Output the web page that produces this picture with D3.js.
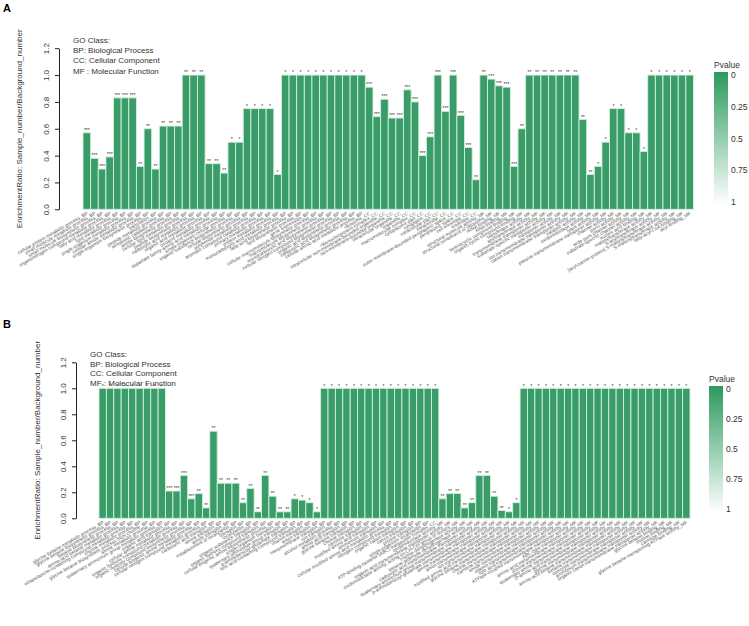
<!DOCTYPE html>
<html><head><meta charset="utf-8">
<script src="https://cdn.jsdelivr.net/npm/d3@7"></script>
<style>body{margin:0;background:#fff}svg{display:block;font-family:"Liberation Sans",Arial,sans-serif}</style>
</head><body><svg id="c" width="749" height="626"></svg>
<script>
// ---------- DATA ----------
const yTicks = [0, 0.2, 0.4, 0.6, 0.8, 1.0, 1.2];
const legendLines = ["GO Class:", "BP: Biological Process", "CC: Cellular Component", "MF : Molecular Function"];
const pTicks = [0, 0.25, 0.5, 0.75, 1];

const termsA = [
"cellular protein metabolic process_BP","small molecule metabolic process_BP","small molecule biosynthetic process_BP","organonitrogen compound metabolic process_BP","fatty acid metabolic process_BP","lipid metabolic process_BP","single-organism metabolic process_BP","cellular amide metabolic process_BP","single-organism biosynthetic process_BP","translation_BP","peptide metabolic process_BP","xenobiotic catabolic process_BP","amide biosynthetic process_BP","cellular lipid metabolic process_BP","peptide biosynthetic process_BP","carboxylic acid metabolic process_BP","organic acid metabolic process_BP","oxoacid metabolic process_BP","aspartate family amino acid metabolic process_BP","single-organism cellular process_BP","organic substance biosynthetic process_BP","cellular biosynthetic process_BP","polyketide metabolic process_BP","aromatic compound catabolic process_BP","primary metabolic process_BP","protein metabolic process_BP","monocarboxylic acid metabolic process_BP","fatty acid biosynthetic process_BP","lipid biosynthetic process_BP","gene expression_BP","cellular macromolecule biosynthetic process_BP","macromolecule biosynthetic process_BP","monocarboxylic acid biosynthetic process_BP","cellular nitrogen compound biosynthetic process_BP","organic acid biosynthetic process_BP","carboxylic acid biosynthetic process_BP","cellular amino acid metabolic process_BP",
"ribosome_CC","ribonucleoprotein complex_CC","intracellular non-membrane-bounded organelle_CC","non-membrane-bounded organelle_CC","intracellular organelle_CC","organelle_CC","macromolecular complex_CC","cytoplasmic part_CC","cytoplasm_CC","intracellular part_CC","intracellular_CC","outer membrane-bounded periplasmic space_CC","periplasmic space_CC","cell envelope_CC","envelope_CC",
"structural molecule activity_MF","structural constituent of ribosome_MF","rRNA binding_MF","RNA binding_MF","heterocyclic compound binding_MF","organic cyclic compound binding_MF","transferase activity_MF","acyltransferase activity_MF","transmembrane transporter activity_MF","substrate-specific transporter activity_MF","transporter activity_MF","ion transmembrane transporter activity_MF","cation transmembrane transporter activity_MF","catalytic activity_MF","oxidoreductase activity_MF","lyase activity_MF","passive transmembrane transporter activity_MF","channel activity_MF","porin activity_MF","wide pore channel activity_MF","substrate-specific channel activity_MF","nucleic acid binding_MF","malonyltransferase activity_MF","S-acyltransferase activity_MF","[acyl-carrier-protein] S-malonyltransferase activity_MF","S-malonyltransferase activity_MF","fatty-acyl-CoA binding_MF","acyl binding_MF"];

const ratioA = [0.57,0.38,0.30,0.39,0.83,0.83,0.83,0.32,0.60,0.30,0.62,0.62,0.62,1,1,1,0.34,0.34,0.27,0.50,0.50,0.75,0.75,0.75,0.75,0.26,
1,1,1,1,1,1,1,1,1,1,1,
0.91,0.69,0.82,0.68,0.68,0.89,0.80,0.40,0.54,1,0.73,1,0.70,0.46,0.22,
1,0.97,0.92,0.91,0.32,0.60,1,1,1,1,1,1,1,0.67,0.26,0.32,0.50,0.75,0.75,0.57,0.57,0.43,1,1,1,1,1,1];

const starsA = ["***","***","***","***","***","***","***","**","**","**","**","**","**","**","**","**","**","**","**","*","*","*","*","*","*","*",
"*","*","*","*","*","*","*","*","*","*","*",
"***","***","***","***","***","***","***","***","***","***","***","***","***","***","**",
"**","***","***","***","***","**","**","**","**","**","**","**","**","**","**","*","*","*","*","*","*","*","*","*","*","*","*","*"];

const termsB = [
"glycine betaine metabolic process_BP","glycine betaine biosynthetic process_BP","betaine biosynthetic process_BP","amino-acid betaine metabolic process_BP","ethanolamine-containing compound metabolic process_BP","choline metabolic process_BP","glycine betaine biosynthetic process from choline_BP","amine metabolic process_BP","quaternary ammonium group metabolic process_BP","organic acid transport_BP","cellular amine metabolic process_BP","organic hydroxy compound metabolic process_BP","organic hydroxy compound biosynthetic process_BP","cellular biogenic amine metabolic process_BP","cellular nitrogen compound metabolic process_BP","carboxylic acid transport_BP","amine transport_BP","amide transport_BP","establishment of localization_BP","transport_BP","localization_BP","organic substance transport_BP","organic hydroxy compound transport_BP","cellular biogenic amine biosynthetic process_BP","single-organism transport_BP","quaternary ammonium group transport_BP","p-aminobenzoyl-glutamate transport_BP","folic acid-containing compound transport_BP","vitamin transport_BP","anion transport_BP","transmembrane transport_BP","ion transport_BP","alcohol metabolic process_BP","amino acid transport_BP","glycine betaine transport_BP","choline transport_BP","carnitine transport_BP","modified amino acid transport_BP","ammonium transport_BP","cellular modified amino acid metabolic process_BP","nitrogen compound transport_BP","organic cation transport_BP","cation transport_BP","proline transport_BP","single-organism localization_BP",
"ATP-binding cassette (ABC) transporter complex_CC",
"oxidoreductase activity_MF","organic acid transmembrane transporter activity_MF","oxidoreductase activity, acting on CH-OH group of donors_MF","choline dehydrogenase activity_MF","betaine-aldehyde dehydrogenase activity_MF","carboxylic acid transmembrane transporter activity_MF","quaternary ammonium group transmembrane transporter activity_MF","p-aminobenzoyl-glutamate transmembrane transporter activity_MF","amine transmembrane transporter activity_MF","anion transmembrane transporter activity_MF","ion transmembrane transporter activity_MF","modified amino acid transmembrane transporter activity_MF","glycine betaine transmembrane transporter activity_MF","choline transmembrane transporter activity_MF","carnitine transmembrane transporter activity_MF","amide transmembrane transporter activity_MF","vitamin transmembrane transporter activity_MF","folic acid transmembrane transporter activity_MF","ATPase-coupled transmembrane transporter activity_MF","ABC-type transporter activity_MF","amino acid transmembrane transporter activity_MF","proline transmembrane transporter activity_MF","quaternary amine transmembrane transporter activity_MF","D-amino acid transmembrane transporter activity_MF","glycine transmembrane transporter activity_MF","amino-acid betaine transmembrane transporter activity_MF","betaine transmembrane transporter activity_MF","osmolyte transmembrane transporter activity_MF","ammonium transmembrane transporter activity_MF","organic cation transmembrane transporter activity_MF","glycine betaine binding_MF","choline binding_MF","carnitine binding_MF","glycine betaine-transporting ATPase activity_MF"];

const ratioB = [1,1,1,1,1,1,1,1,1,0.21,0.21,0.33,0.15,0.19,0.08,0.67,0.27,0.27,0.27,0.12,0.23,0.05,0.33,0.17,0.05,0.05,0.15,0.14,0.12,0.05,
1,1,1,1,1,1,1,1,1,1,1,1,1,1,1,1,
0.15,0.19,0.19,0.08,0.12,0.33,0.33,0.17,0.06,0.05,0.12,
1,1,1,1,1,1,1,1,1,1,1,1,1,1,1,1,1,1,1,1,1,1,1];

const starsB = ["*","*","*","*","*","*","*","*","*","***","***","***","***","**","**","**","**","**","**","**","**","**","**","**","**","**","*","*","*","*",
"*","*","*","*","*","*","*","*","*","*","*","*","*","*","*","*",
"**","**","**","**","**","**","**","**","**","*","*",
"*","*","*","*","*","*","*","*","*","*","*","*","*","*","*","*","*","*","*","*","*","*","*"];

// ---------- DRAW ----------
const svg = d3.select("#c");
const barColor = "#3a9d69";
const grad = svg.append("defs").append("linearGradient").attr("id","pg").attr("x1",0).attr("y1",0).attr("x2",0).attr("y2",1);
grad.append("stop").attr("offset","0%").attr("stop-color","#2b9a5d");
grad.append("stop").attr("offset","100%").attr("stop-color","#ffffff");

function panel(o){
  const g = svg.append("g");
  const x = d3.scaleBand().domain(o.terms.map((d,i)=>i)).range([o.x0,o.x1]).padding(0);
  const y = d3.scaleLinear().domain([0,1.2]).range([o.y0,o.y1]);
  g.append("text").attr("x",3).attr("y",o.letterY).attr("font-size",11).attr("font-weight","bold").text(o.letter);
  const ax = g.append("g").attr("transform",`translate(${o.axX},0)`).call(d3.axisLeft(y).tickValues(yTicks).tickFormat(d3.format(".1f")).tickSize(4).tickSizeOuter(0));
  ax.select(".domain").attr("stroke","#222");
  ax.selectAll(".tick line").attr("stroke","#222");
  ax.selectAll(".tick text").attr("font-size",8).attr("fill","#333").attr("font-family","Liberation Sans, Arial")
    .attr("text-anchor","middle").attr("x",0).attr("y",0).attr("dy","0")
    .attr("transform","translate(-10,0) rotate(-90)");
  g.append("text").attr("transform",`translate(${o.titleX},${(o.y0+o.y1)/2}) rotate(-90)`).attr("text-anchor","middle")
    .attr("font-size",8).attr("fill","#333").text("EnrichmentRatio: Sample_number/Background_number");
  g.selectAll("rect.bar").data(o.ratio).enter().append("rect").attr("class","bar")
    .attr("x",(d,i)=>x(i)).attr("width",x.bandwidth()).attr("y",d=>y(d)).attr("height",d=>o.y0-y(d))
    .attr("fill",barColor).attr("stroke","#d2f0dc").attr("stroke-width",0.9);
  g.selectAll("text.star").data(o.ratio).enter().append("text").attr("class","star")
    .attr("x",(d,i)=>x(i)+x.bandwidth()/2).attr("y",d=>y(d)-0.8).attr("text-anchor","middle")
    .attr("font-size",5).attr("fill","#333").text((d,i)=>o.stars[i]);
  g.selectAll("text.leg").data(legendLines).enter().append("text").attr("class","leg")
    .attr("x",o.legX).attr("y",(d,i)=>o.legY+i*o.legDy).attr("font-size",8).attr("fill","#333").text(d=>d);
  g.selectAll("text.xl").data(o.terms).enter().append("text").attr("class","xl")
    .attr("transform",(d,i)=>`translate(${x(i)+x.bandwidth()/2+1.5},${o.y0+5}) rotate(-30)`)
    .attr("text-anchor","end").attr("font-size",4.8).attr("fill","#555").text(d=>d);
  const cb = g.append("g");
  cb.append("text").attr("x",o.cbX).attr("y",o.cbY0-4).attr("font-size",8.5).attr("fill","#333").text("Pvalue");
  cb.append("rect").attr("x",o.cbX).attr("y",o.cbY0).attr("width",14).attr("height",o.cbY1-o.cbY0).attr("fill","url(#pg)");
  const py = d3.scaleLinear().domain([0,1]).range([o.cbY0+3,o.cbY1-3]);
  cb.selectAll("text.pt").data(pTicks).enter().append("text").attr("class","pt")
    .attr("x",o.cbX+17).attr("y",d=>py(d)+3).attr("font-size",8.5).attr("fill","#333").text(d=>d);
}

panel({letter:"A",letterY:12,terms:termsA,ratio:ratioA,stars:starsA,x0:83,x1:693.5,y0:209.3,y1:48.2,axX:59,titleX:22,
  legX:73,legY:43,legDy:10.2,cbX:714,cbY0:72,cbY1:205});
panel({letter:"B",letterY:328,terms:termsB,ratio:ratioB,stars:starsB,x0:99,x1:690,y0:518.3,y1:362.3,axX:76,titleX:40,
  legX:90,legY:357,legDy:9.7,cbX:709,cbY0:386,cbY1:512});
</script></body></html>
